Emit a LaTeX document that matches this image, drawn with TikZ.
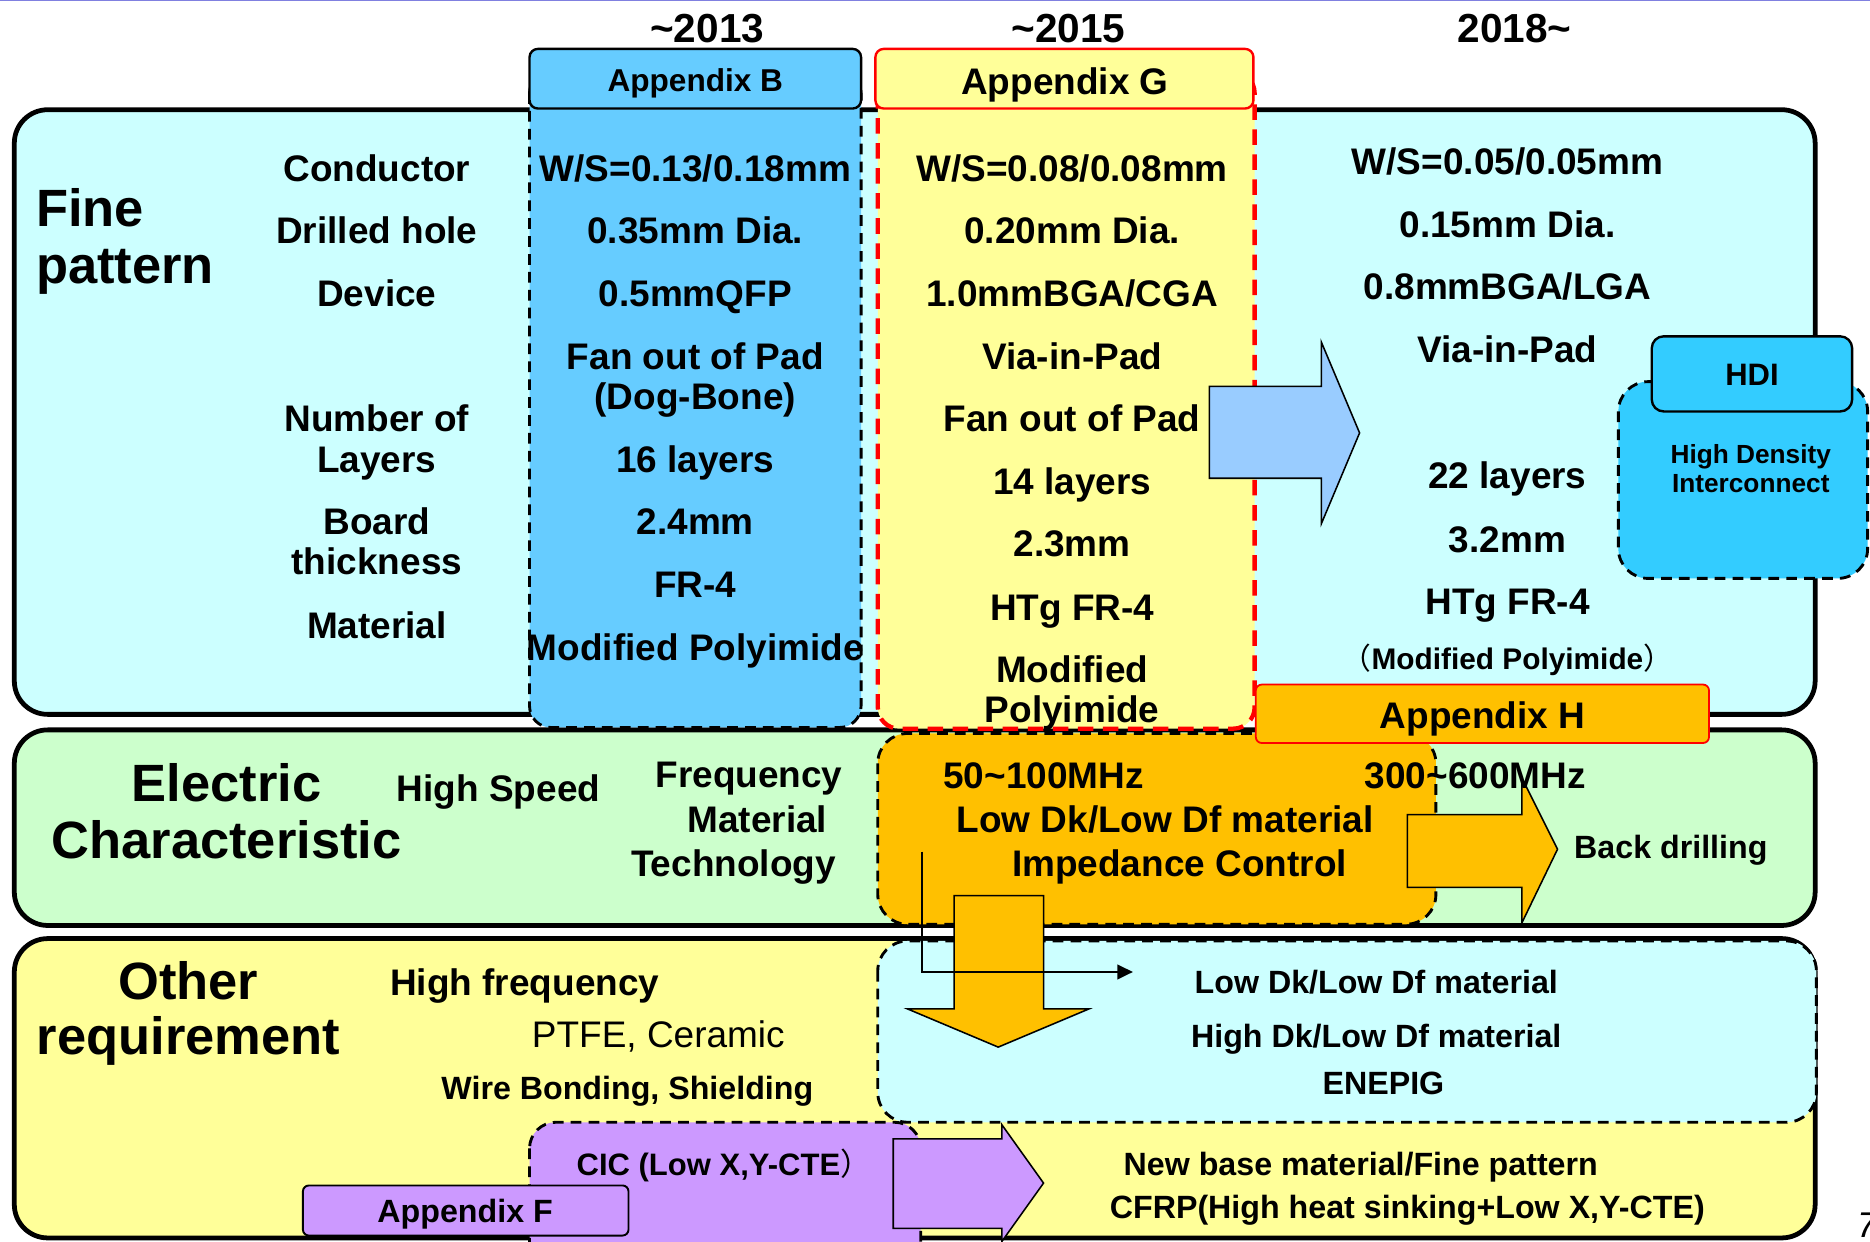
\documentclass[tikz,border=0pt]{standalone}
\usepackage{fontspec}
\setmainfont{Liberation Sans}
\newfontfamily\cjk{Noto Sans CJK SC}
\usetikzlibrary{arrows.meta}
\definecolor{fineC}{HTML}{CCFFFF}
\definecolor{colB}{HTML}{66CCFF}
\definecolor{colG}{HTML}{FFFF99}
\definecolor{elecC}{HTML}{CCFFCC}
\definecolor{otherC}{HTML}{FFFF99}
\definecolor{orangeC}{HTML}{FFC000}
\definecolor{purpleC}{HTML}{CC99FF}
\definecolor{hdiC}{HTML}{33CCFF}
\definecolor{arrowBlue}{HTML}{99CCFF}
\definecolor{topLine}{HTML}{8080E0}
\begin{document}
\begin{tikzpicture}[x=1pt,y=-1pt,
 txt/.style={font=\bfseries\fontsize{#1}{#1}\selectfont, inner sep=0pt, anchor=base},
 reg/.style={font=\fontsize{#1}{#1}\selectfont, inner sep=0pt, anchor=base},
 mainbox/.style={draw=black, line width=4pt, rounded corners=28pt},
 dbox/.style={draw=black, line width=2.4pt, dash pattern=on 9pt off 6pt},
 rdbox/.style={draw=red, line width=3.6pt, dash pattern=on 13pt off 8pt},
 blk/.style={draw=black, line width=1.3pt},
]
\useasboundingbox (0,0) rectangle (1568,1041);
\fill[white] (0,0) rectangle (1568,1041);
\draw[topLine, line width=1.2pt] (0,0.6) -- (1568,0.6);

% main row boxes
\draw[mainbox, fill=fineC] (12,92) rectangle (1522,599);
\draw[mainbox, fill=elecC] (12,612) rectangle (1522,776);
\draw[mainbox, fill=otherC] (12,787) rectangle (1522,1038);

% Appendix B column
\draw[dbox, fill=colB, rounded corners=18pt] (444,60) rectangle (722,610);
\draw[blk, line width=2pt, fill=colB, rounded corners=7pt] (444,41) rectangle (722,91);
% Appendix G column
\draw[rdbox, fill=colG, rounded corners=18pt] (736,60) rectangle (1052,611);
\draw[draw=red, line width=2pt, fill=colG, rounded corners=7pt] (734,41) rectangle (1051,91);

% blue arrow
\draw[blk, fill=arrowBlue] (1014,324) -- (1108,324) -- (1108,287) -- (1140,363) -- (1108,439) -- (1108,401) -- (1014,401) -- cycle;

% HDI
\draw[dbox, fill=hdiC, rounded corners=25pt] (1357,320) rectangle (1566,485);
\draw[blk, line width=2pt, fill=hdiC, rounded corners=10pt] (1385,282) rectangle (1553,345);

% orange box
\draw[dbox, fill=orangeC, rounded corners=25pt] (736,615) rectangle (1204,775);
% Appendix H
\draw[draw=red, line width=1.5pt, fill=orangeC, rounded corners=5pt] (1053,574) rectangle (1433,623);

% cyan box in other row
\draw[dbox, fill=fineC, rounded corners=25pt] (736,789) rectangle (1523,941);
% purple box
\draw[dbox, fill=purpleC, rounded corners=22pt] (444,941) rectangle (772,1080);
\draw[blk, line width=1.6pt, fill=purpleC, rounded corners=5pt] (254,994) rectangle (527,1036);
% purple arrow
\draw[blk, fill=purpleC] (749,955) -- (840,955) -- (840,943) -- (875,992) -- (840,1041) -- (840,1030) -- (749,1030) -- cycle;

% orange right arrow
\draw[blk, fill=orangeC] (1180,683) -- (1276,683) -- (1276,652) -- (1306,712) -- (1276,774) -- (1276,744) -- (1180,744) -- cycle;
% orange down arrow
\draw[blk, fill=orangeC] (800,751) -- (875,751) -- (875,846) -- (913,846) -- (837,878) -- (761,846) -- (800,846) -- cycle;
% connector
\coordinate (ls) at (773,714);
\coordinate (le) at (950,815);
\draw[line width=2.2pt, -{Triangle[length=13pt,width=12pt]}] (ls) |- (le);

% years
\node[txt=34] (y13) at (593,36) {\textasciitilde2013};
\node[txt=34] (y15) at (896,36) {\textasciitilde2015};
\node[txt=34] (y18) at (1270,36) {2018\textasciitilde};

% headers
\node[txt=26.5] (apB) at (583,77) {Appendix B};
\node[txt=31] (apG) at (893,79) {Appendix G};
\node[txt=31] (apH) at (1243,611) {Appendix H};
\node[txt=26] (hdi) at (1469,323) {HDI};
\node[txt=22] (hd1) at (1468,389) {High Density};
\node[txt=22] (hd2) at (1468,413) {Interconnect};

% fine pattern
\node[txt=44, anchor=base west] (fine1) at (30,190) {Fine};
\node[txt=44, anchor=base west] (fine2) at (30,238) {pattern};
\node[txt=31] (r1) at (316,152) {Conductor};
\node[txt=31] (r2) at (316,204) {Drilled hole};
\node[txt=31] (r3) at (316,257) {Device};
\node[txt=31] (r4) at (316,362) {Number of};
\node[txt=31] (r5) at (316,396) {Layers};
\node[txt=31] (r6) at (316,448) {Board};
\node[txt=31] (r7) at (316,482) {thickness};
\node[txt=31] (r8) at (316,535) {Material};

\node[txt=31] (b1) at (583,152) {W/S=0.13/0.18mm};
\node[txt=31] (b2) at (583,204) {0.35mm Dia.};
\node[txt=31] (b3) at (583,257) {0.5mmQFP};
\node[txt=31] (b4) at (583,310) {Fan out of Pad};
\node[txt=31] (b5) at (583,343) {(Dog-Bone)};
\node[txt=31] (b6) at (583,396) {16 layers};
\node[txt=31] (b7) at (583,448) {2.4mm};
\node[txt=31] (b8) at (583,501) {FR-4};
\node[txt=31] (b9) at (583,554) {Modified Polyimide};

\node[txt=31] (g1) at (899,152) {W/S=0.08/0.08mm};
\node[txt=31] (g2) at (899,204) {0.20mm Dia.};
\node[txt=31] (g3) at (899,257) {1.0mmBGA/CGA};
\node[txt=31] (g4) at (899,310) {Via-in-Pad};
\node[txt=31] (g5) at (899,362) {Fan out of Pad};
\node[txt=31] (g6) at (899,415) {14 layers};
\node[txt=31] (g7) at (899,467) {2.3mm};
\node[txt=31] (g8) at (899,520) {HTg FR-4};
\node[txt=31] (g9) at (899,572) {Modified};
\node[txt=31] (g10) at (899,606) {Polyimide};

\node[txt=31] (n1) at (1264,146) {W/S=0.05/0.05mm};
\node[txt=31] (n2) at (1264,199) {0.15mm Dia.};
\node[txt=31] (n3) at (1264,251) {0.8mmBGA/LGA};
\node[txt=31] (n4) at (1264,304) {Via-in-Pad};
\node[txt=31] (n5) at (1264,410) {22 layers};
\node[txt=31] (n6) at (1264,463) {3.2mm};
\node[txt=31] (n7) at (1264,515) {HTg FR-4};
\node[txt=25] (n8) at (1264,561) {{\cjk\mdseries （}Modified Polyimide{\cjk\mdseries ）}};

% electric row
\node[txt=44] (el1) at (190,672) {Electric};
\node[txt=44] (el2) at (190,720) {Characteristic};
\node[txt=31] (hs) at (418,672) {High Speed};
\node[txt=31] (fr1) at (628,660) {Frequency};
\node[txt=31] (fr2) at (635,698) {Material};
\node[txt=31] (fr3) at (615,735) {Technology};
\node[txt=31] (o1) at (875,661) {50\textasciitilde100MHz};
\node[txt=31] (o2) at (977,698) {Low Dk/Low Df material};
\node[txt=31] (o3) at (989,735) {Impedance Control};
\node[txt=31] (o4) at (1237,661) {300\textasciitilde600MHz};
\node[txt=27] (bd) at (1401,720) {Back drilling};

% other row
\node[txt=44] (ot1) at (158,838) {Other};
\node[txt=44] (ot2) at (158,884) {requirement};
\node[txt=31] (hf) at (440,835) {High frequency};
\node[reg=31] (pt) at (552,878) {PTFE, Ceramic};
\node[txt=27] (wb) at (526,922) {Wire Bonding, Shielding};
\node[txt=27] (c1) at (1154,833) {Low Dk/Low Df material};
\node[txt=27] (c2) at (1154,878) {High Dk/Low Df material};
\node[txt=27] (c3) at (1160,918) {ENEPIG};
\node[txt=26] (cic) at (607,986) {CIC (Low X,Y-CTE{\cjk\mdseries ）}};
\node[txt=27] (apF) at (390,1025) {Appendix F};
\node[txt=27] (nb1) at (1141,986) {New base material/Fine pattern};
\node[txt=27] (nb2) at (1180,1022) {CFRP(High heat sinking+Low X,Y-CTE)};
\node[reg=30, anchor=base west] (pg) at (1557,1038) {\itshape 7};
\end{tikzpicture}
\end{document}
